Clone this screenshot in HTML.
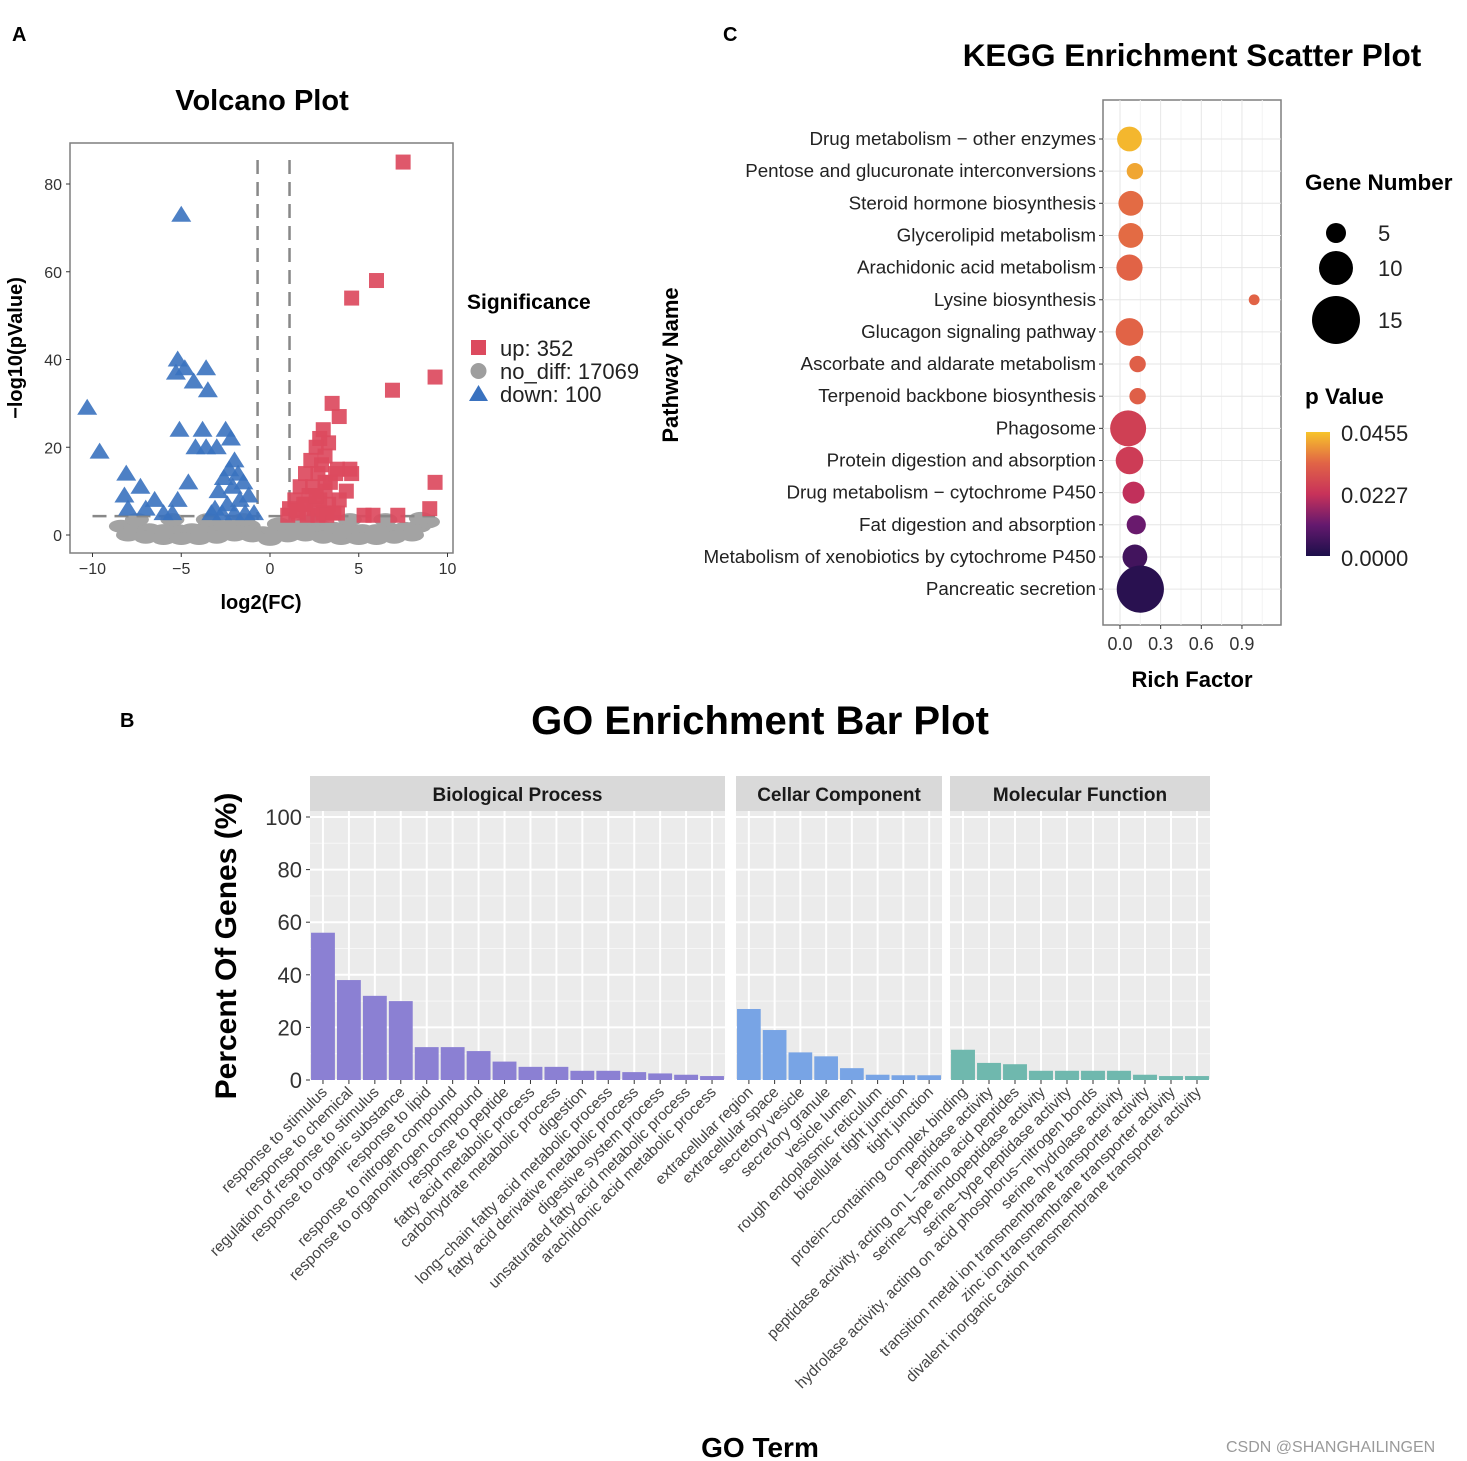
<!DOCTYPE html>
<html><head><meta charset="utf-8"><style>
html,body{margin:0;padding:0;background:#fff}
svg{display:block;font-family:"Liberation Sans",Arial,sans-serif}
</style></head><body>
<svg id="fig" width="1467" height="1461" viewBox="0 0 1467 1461" xmlns="http://www.w3.org/2000/svg">
<rect width="1467" height="1461" fill="#fff"/>
<text x="12" y="41" font-size="20" font-weight="bold">A</text>
<text x="723" y="41" font-size="20" font-weight="bold">C</text>
<text x="120" y="727" font-size="20" font-weight="bold">B</text>
<text x="1226" y="1452" font-size="16" fill="#9a9a9a">CSDN @SHANGHAILINGEN</text>
<g id="volcano"></g>
<g id="kegg"></g>
<g id="go"></g>
</svg>
<script>
// ---------- Volcano data ----------
const upX = [7.5,6.0,4.6,9.3,6.9,9.3,9.0,5.3,5.8,7.2,3.5,3.9,4.5,3.8,4.6,3.9,3.0,3.3,2.8,3.1,2.6,2.9,2.3,2.7,3.4,2.0,2.4,3.1,1.7,2.2,2.8,3.3,1.4,1.9,2.5,3.0,3.6,1.1,1.6,2.1,2.7,3.2,3.8,1.0,1.5,2.0,2.6,3.1,3.7,4.3];
const upY = [85,58,54,36,33,12,6,4.5,4.5,4.5,30,27,15,15,14,8,24,21,22,18,20,16,17,14,12,14,11,10,11,9,8,7,8,7,6,5,5,6,5,4.5,4.5,4.5,5,4.5,5.5,7,9,12,14,10];
const downX = [-5.0,-10.3,-9.6,-5.2,-4.8,-5.3,-3.6,-4.3,-3.5,-8.1,-7.3,-8.2,-5.1,-3.8,-2.5,-2.2,-4.2,-3.6,-3.0,-4.6,-6.5,-7.0,-5.2,-2.0,-2.3,-1.8,-2.6,-1.5,-2.1,-2.9,-1.2,-1.7,-2.4,-3.1,-0.9,-1.4,-2.0,-2.7,-3.3,-8.0,-6.0,-5.5];
const downY = [73,29,19,40,38,37,38,35,33,14,11,9,24,24,24,22,20,20,20,12,8,6,8,17,15,14,13,12,11,10,9,8,7,6,5,5,5,5,5,6,5,5];
const greyX = [-8.4,-7.6,-6.8,-6.0,-5.2,-4.4,-3.6,-2.8,-2.0,-1.2,-0.4,0.4,1.2,2.0,2.8,3.6,4.4,5.2,6.0,6.8,7.6,8.4,8.9,-8.0,-7.0,-6.0,-5.0,-4.0,-3.0,-2.0,-1.0,0.0,1.0,2.0,3.0,4.0,5.0,6.0,7.0,8.0,-7.5,-5.5,-3.5,-1.5,0.5,2.5,4.5,6.5,8.5];
const greyY = [2.0,1.5,1.2,1.0,1.0,1.2,1.5,2.0,2.5,2.0,0.5,0.5,2.0,2.5,2.0,1.5,1.2,1.0,1.0,1.2,1.5,2.0,3.0,0.0,-0.5,-0.8,-0.8,-0.8,-0.5,0.0,-0.2,-1.0,-0.2,0.0,-0.5,-0.8,-0.8,-0.8,-0.5,0.0,3.5,3.5,3.5,3.5,2.5,3.5,3.5,3.5,3.8];
const volXTicks = [-10,-5,0,5,10];
const volYTicks = [0,20,40,60,80];
const volLegendLabels = ["up: 352","no_diff: 17069","down: 100"];

// ---------- KEGG data ----------
const pathways = ["Drug metabolism \u2212 other enzymes","Pentose and glucuronate interconversions","Steroid hormone biosynthesis","Glycerolipid metabolism","Arachidonic acid metabolism","Lysine biosynthesis","Glucagon signaling pathway","Ascorbate and aldarate metabolism","Terpenoid backbone biosynthesis","Phagosome","Protein digestion and absorption","Drug metabolism \u2212 cytochrome P450","Fat digestion and absorption","Metabolism of xenobiotics by cytochrome P450","Pancreatic secretion"];
const richFactor = [0.07,0.11,0.08,0.08,0.07,0.99,0.07,0.13,0.13,0.06,0.07,0.10,0.12,0.11,0.15];
const geneNumber = [6,3,6,6,6.5,1,7,3,3,10,7,5,4,6,14];
const pValue = [0.044,0.042,0.035,0.035,0.034,0.034,0.034,0.033,0.033,0.026,0.025,0.022,0.012,0.006,0.002];
const keggXTicks = [0.0,0.3,0.6,0.9];
const sizeLegend = [5,10,15];
const colorTicks = ["0.0455","0.0227","0.0000"];

// ---------- GO data ----------
const bpTerms = ["response to stimulus","response to chemical","regulation of response to stimulus","response to organic substance","response to lipid","response to nitrogen compound","response to organonitrogen compound","response to peptide","fatty acid metabolic process","carbohydrate metabolic process","digestion","long\u2212chain fatty acid metabolic process","fatty acid derivative metabolic process","digestive system process","unsaturated fatty acid metabolic process","arachidonic acid metabolic process"];
const bpValues = [56,38,32,30,12.5,12.5,11,7,5,5,3.5,3.5,3,2.5,2,1.5];
const ccTerms = ["extracellular region","extracellular space","secretory vesicle","secretory granule","vesicle lumen","rough endoplasmic reticulum","bicellular tight junction","tight junction"];
const ccValues = [27,19,10.5,9,4.5,2,1.8,1.8];
const mfTerms = ["protein\u2212containing complex binding","peptidase activity","peptidase activity, acting on L\u2212amino acid peptides","serine\u2212type endopeptidase activity","serine\u2212type peptidase activity","hydrolase activity, acting on acid phosphorus\u2212nitrogen bonds","serine hydrolase activity","transition metal ion transmembrane transporter activity","zinc ion transmembrane transporter activity","divalent inorganic cation transmembrane transporter activity"];
const mfValues = [11.5,6.5,6,3.5,3.5,3.5,3.5,2,1.5,1.5];
const goYTicks = [0,20,40,60,80,100];

const NS="http://www.w3.org/2000/svg";
function mk(parent,tag,attrs,text){const e=document.createElementNS(NS,tag);for(const k in attrs)e.setAttribute(k,attrs[k]);if(text!==undefined)e.textContent=text;parent.appendChild(e);return e;}

// ===== Volcano =====
(function(){
  const g=document.getElementById('volcano');
  const X0=70,X1=453,Y0=143,Y1=553;
  const sx=v=>270+v*17.75, sy=v=>535-v*4.3875;
  let t=mk(g,'text',{x:262,y:110,'font-size':29,'font-weight':'bold','text-anchor':'middle'},'Volcano Plot');
  
  let r=mk(g,'rect',{x:X0,y:Y0,width:X1-X0,height:Y1-Y0,fill:'#fff',stroke:'#7f7f7f','stroke-width':1.5});
  
  volXTicks.forEach(v=>{mk(g,'line',{x1:sx(v),x2:sx(v),y1:Y1,y2:Y1+4,stroke:'#333'});
    const e=mk(g,'text',{x:sx(v),y:Y1+21,'font-size':16,'text-anchor':'middle',fill:'#333'},v<0?'\u2212'+(-v):String(v));
    });
  volYTicks.forEach(v=>{mk(g,'line',{x1:X0-4,x2:X0,y1:sy(v),y2:sy(v),stroke:'#333'});
    const e=mk(g,'text',{x:X0-8,y:sy(v)+6,'font-size':16,'text-anchor':'end',fill:'#333'},String(v));
    });
  greyX.forEach((x,i)=>{const c=mk(g,'ellipse',{cx:sx(x),cy:sy(greyY[i]),rx:12,ry:6.5,fill:'#a3a3a3'});
    });
  mk(g,'line',{x1:sx(-0.7),x2:sx(-0.7),y1:160,y2:520,stroke:'#888','stroke-width':2.5,'stroke-dasharray':'14,8'});
  mk(g,'line',{x1:sx(1.1),x2:sx(1.1),y1:160,y2:520,stroke:'#888','stroke-width':2.5,'stroke-dasharray':'14,8'});
  mk(g,'line',{x1:sx(-10),x2:sx(9.3),y1:sy(4.3),y2:sy(4.3),stroke:'#888','stroke-width':2.5,'stroke-dasharray':'14,8'});
  downX.forEach((x,i)=>{const cx=sx(x),cy=sy(downY[i]);
    const p=mk(g,'polygon',{points:`${cx},${cy-9} ${cx-10},${cy+7} ${cx+10},${cy+7}`,fill:'#3a72bf','fill-opacity':0.9});
    });
  upX.forEach((x,i)=>{const cx=sx(x),cy=sy(upY[i]);
    const p=mk(g,'rect',{x:cx-7.5,y:cy-7.5,width:15,height:15,fill:'#dc4a5e','fill-opacity':0.92});
    });
  t=mk(g,'text',{x:261,y:609,'font-size':20,'font-weight':'bold','text-anchor':'middle'},'log2(FC)');
  
  t=mk(g,'text',{x:0,y:0,'font-size':20,'font-weight':'bold','text-anchor':'middle',transform:'translate(22,348) rotate(-90)'},'\u2212log10(pValue)');
  
  t=mk(g,'text',{x:467,y:309,'font-size':21,'font-weight':'bold'},'Significance');
  
  const ly=[348,371,394];
  let m=mk(g,'rect',{x:471,y:ly[0]-8,width:15,height:15,fill:'#dc4a5e'});
  
  m=mk(g,'circle',{cx:478.5,cy:ly[1],r:8,fill:'#9e9e9e'});
  
  m=mk(g,'polygon',{points:`478.5,${ly[2]-9} 469,${ly[2]+7} 488,${ly[2]+7}`,fill:'#3a72bf'});
  
  volLegendLabels.forEach((s,i)=>{const e=mk(g,'text',{x:500,y:ly[i]+8,'font-size':22,fill:'#222'},s);
    });
})();

// ===== KEGG =====
(function(){
  const g=document.getElementById('kegg');
  const X0=1103,X1=1281,Y0=100,Y1=625;
  const sx=v=>1120+v*135.5;
  const sy=i=>139+i*32.15;
  const rad=n=>4+1.4*n;
  function col(p){const t=p/0.0455;
    const stops=[[0,[28,15,74]],[0.25,[100,25,110]],[0.5,[200,50,90]],[0.75,[225,100,70]],[1,[247,196,42]]];
    for(let k=1;k<stops.length;k++){if(t<=stops[k][0]){const a=stops[k-1],b=stops[k];const f=(t-a[0])/(b[0]-a[0]);
      return 'rgb('+a[1].map((c,j)=>Math.round(c+(b[1][j]-c)*f)).join(',')+')';}}
    return 'rgb(247,196,42)';}
  let t=mk(g,'text',{x:1192,y:66,'font-size':31.5,'font-weight':'bold','text-anchor':'middle'},'KEGG Enrichment Scatter Plot');
  
  let r=mk(g,'rect',{x:X0,y:Y0,width:X1-X0,height:Y1-Y0,fill:'#fff',stroke:'#7f7f7f','stroke-width':1.5});
  
  [0.15,0.45,0.75,1.05].forEach(v=>mk(g,'line',{x1:sx(v),x2:sx(v),y1:Y0,y2:Y1,stroke:'#f3f3f3'}));
  keggXTicks.forEach(v=>mk(g,'line',{x1:sx(v),x2:sx(v),y1:Y0,y2:Y1,stroke:'#e6e6e6'}));
  pathways.forEach((p,i)=>mk(g,'line',{x1:X0,x2:X1,y1:sy(i),y2:sy(i),stroke:'#e6e6e6'}));
  keggXTicks.forEach(v=>{mk(g,'line',{x1:sx(v),x2:sx(v),y1:Y1,y2:Y1+4,stroke:'#333'});
    const e=mk(g,'text',{x:sx(v),y:Y1+25,'font-size':18,'text-anchor':'middle',fill:'#333'},v.toFixed(1));
    });
  pathways.forEach((p,i)=>{mk(g,'line',{x1:X0-4,x2:X0,y1:sy(i),y2:sy(i),stroke:'#333'});
    const e=mk(g,'text',{x:X0-7,y:sy(i)+6,'font-size':18.8,'text-anchor':'end',fill:'#222'},p);
    });
  pathways.forEach((p,i)=>{const c=mk(g,'circle',{cx:sx(richFactor[i]),cy:sy(i),r:rad(geneNumber[i]),fill:col(pValue[i])});
    });
  t=mk(g,'text',{x:1192,y:687,'font-size':22,'font-weight':'bold','text-anchor':'middle'},'Rich Factor');
  
  t=mk(g,'text',{x:0,y:0,'font-size':22,'font-weight':'bold','text-anchor':'middle',transform:'translate(678,365) rotate(-90)'},'Pathway Name');
  
  t=mk(g,'text',{x:1305,y:190,'font-size':22.5,'font-weight':'bold'},'Gene Number');
  
  const sly=[233,268,320];
  sizeLegend.forEach((n,i)=>{const c=mk(g,'circle',{cx:1336,cy:sly[i],r:rad(n)-1,fill:'#000'});
    
    const e=mk(g,'text',{x:1378,y:sly[i]+8,'font-size':22,fill:'#222'},String(n));
    });
  t=mk(g,'text',{x:1305,y:404,'font-size':22.5,'font-weight':'bold'},'p Value');
  
  const defs=mk(g,'defs',{});const lg=mk(defs,'linearGradient',{id:'pgrad',x1:0,y1:1,x2:0,y2:0});
  [0,0.25,0.5,0.75,1].forEach(s=>mk(lg,'stop',{offset:s,'stop-color':col(s*0.0455)}));
  r=mk(g,'rect',{x:1306,y:432,width:24,height:124,fill:'url(#pgrad)'});
  
  const cty=[433,495,558];
  colorTicks.forEach((s,i)=>{const e=mk(g,'text',{x:1341,y:cty[i]+8,'font-size':22,fill:'#222'},s);
    });
})();

// ===== GO =====
(function(){
  const g=document.getElementById('go');
  const YB=1080,YT=811;
  const sy=v=>YB-v*2.63;
  let t=mk(g,'text',{x:760,y:734,'font-size':40,'font-weight':'bold','text-anchor':'middle'},'GO Enrichment Bar Plot');
  
  const panels=[{name:'Biological Process',x0:310,x1:725,terms:bpTerms,vals:bpValues,color:'#8b80d3',id:'bp'},
    {name:'Cellar Component',x0:736,x1:942,terms:ccTerms,vals:ccValues,color:'#78a4e5',id:'cc'},
    {name:'Molecular Function',x0:950,x1:1210,terms:mfTerms,vals:mfValues,color:'#6fb8ae',id:'mf'}];
  panels.forEach(P=>{
    const w=(P.x1-P.x0)/P.terms.length;
    let r=mk(g,'rect',{x:P.x0,y:776,width:P.x1-P.x0,height:35,fill:'#d9d9d9'});
    
    let e=mk(g,'text',{x:(P.x0+P.x1)/2,y:801,'font-size':19,'font-weight':'bold','text-anchor':'middle',fill:'#1a1a1a'},P.name);
    
    r=mk(g,'rect',{x:P.x0,y:YT,width:P.x1-P.x0,height:YB-YT,fill:'#ebebeb'});
    
    [10,30,50,70,90].forEach(v=>mk(g,'line',{x1:P.x0,x2:P.x1,y1:sy(v),y2:sy(v),stroke:'#f7f7f7','stroke-width':1}));
    goYTicks.forEach(v=>mk(g,'line',{x1:P.x0,x2:P.x1,y1:sy(v),y2:sy(v),stroke:'#fff','stroke-width':2}));
    P.terms.forEach((s,i)=>{const cx=P.x0+w*(i+0.5);
      mk(g,'line',{x1:cx,x2:cx,y1:YT,y2:YB,stroke:'#fff','stroke-width':2});});
    P.terms.forEach((s,i)=>{const cx=P.x0+w*(i+0.5);
      const b=mk(g,'rect',{x:cx-w*0.46,y:sy(P.vals[i]),width:w*0.92,height:YB-sy(P.vals[i]),fill:P.color});
      
      mk(g,'line',{x1:cx,x2:cx,y1:YB,y2:YB+4,stroke:'#333'});
      const l=mk(g,'text',{x:0,y:0,'font-size':15.5,'text-anchor':'end',fill:'#444',transform:`translate(${cx+5},${YB+13}) rotate(-45)`},s);
      });
  });
  goYTicks.forEach(v=>{mk(g,'line',{x1:306,x2:310,y1:sy(v),y2:sy(v),stroke:'#333'});
    const e=mk(g,'text',{x:302,y:sy(v)+8,'font-size':22,'text-anchor':'end',fill:'#333'},String(v));
    });
  t=mk(g,'text',{x:0,y:0,'font-size':30,'font-weight':'bold','text-anchor':'middle',transform:'translate(236,946) rotate(-90)'},'Percent Of Genes (%)');
  
  t=mk(g,'text',{x:760,y:1457,'font-size':28,'font-weight':'bold','text-anchor':'middle'},'GO Term');
  
})();
</script>
</body></html>
